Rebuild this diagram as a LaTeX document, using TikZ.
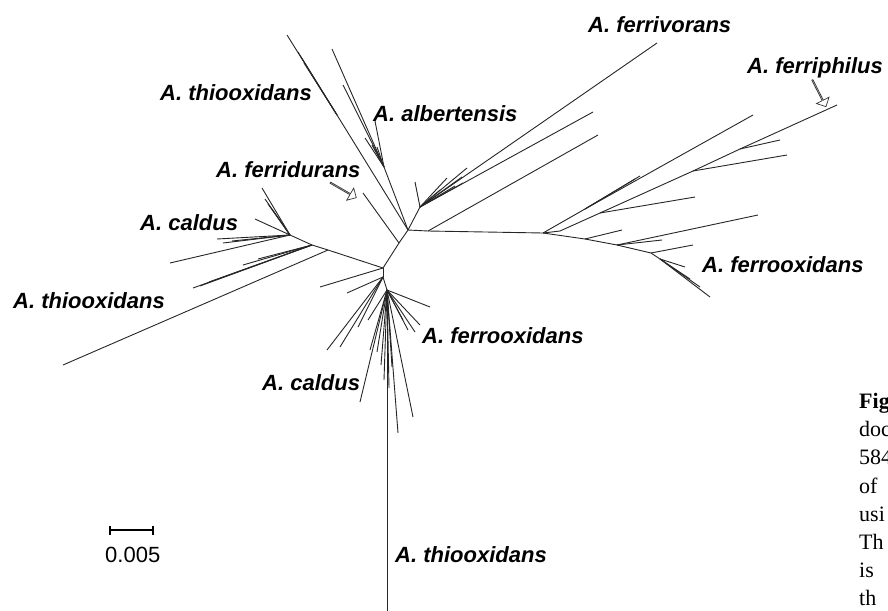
\documentclass[tikz,border=0pt]{standalone}
\usepackage{fontspec}
\setmainfont{Liberation Serif}
\newfontfamily\taxfont{Liberation Sans}
\usepackage{tikz}
\usetikzlibrary{graphs,shapes.arrows,arrows.meta}

\begin{document}
\begin{tikzpicture}[
    x=1pt, y={(0pt,-1pt)},
    branch/.style={draw=black!85, line width=0.9pt},
    taxon/.style={font=\taxfont\bfseries\itshape\fontsize{22}{26}\selectfont, anchor=base west, inner sep=0pt},
    hollowarrow/.style={single arrow, draw=black!80, fill=white, line width=0.7pt,
        minimum height=30pt, minimum width=14pt, single arrow head extend=3.5pt, inner sep=0pt},
    caption/.style={font=\fontsize{22}{28.2}\selectfont, anchor=north west, align=left, inner sep=0pt}
]
\useasboundingbox (0,0) rectangle (888,610);
\clip (0,0) rectangle (888,610);

\graph [
    no placement,
    empty nodes,            % only the branches are drawn
    nodes={coordinate},     % branch ends meet exactly
    edges={branch}
]
{
    % centre of the tree
    c2[at={(383,268)}] -- fd[at={(399,243)}] -- c1[at={(408,230)}],
    fd -- fdl[at={(363,193)}],
    % upper part
    c1 -- {
        tt[at={(337,115)}] -- {
            t1[at={(287,35)}], t2[at={(298,52)}], t3[at={(301,57)}], t4[at={(304,63)}]
        },
        ab[at={(384,167)}] -- {
            a1[at={(332,49)}], a2[at={(343,85)}], a3[at={(375,121)}],
            a4[at={(365,138)}], a5[at={(372,145)}], a6[at={(377,147)}]
        },
        al[at={(420,207)}] -- {
            v1[at={(657,43)}], v2[at={(593,112)}], v3[at={(415,182)}], v4[at={(447,178)}],
            v5[at={(462,177)}], v6[at={(467,168)}], v7[at={(463,183)}], v8[at={(455,186)}],
            v9[at={(440,190)}]
        },
        h0[at={(428,231)}] -- {
            g1[at={(598,135)}],
            h[at={(543,233)}]
        }
    },
    % right part
    h -- {
        r1[at={(585,209)}] -- { r1a[at={(753,115)}], r1b[at={(635,179)}], r1c[at={(640,176)}] },
        r2[at={(560,231)}] -- r3[at={(600,213)}] -- {
            r3a[at={(695,197)}],
            r4[at={(693,171)}] -- {
                r4a[at={(787,155)}],
                r5[at={(740,149)}] -- { r5a[at={(837,105)}], r5b[at={(780,140)}] }
            }
        },
        f1[at={(585,239)}] -- {
            f1a[at={(622,230)}],
            f2[at={(617,245)}] -- {
                f2a[at={(662,240)}], f2b[at={(758,215)}],
                f3[at={(651,253)}] -- {
                    f3a[at={(693,245)}],
                    f4[at={(660,259)}] -- {
                        f4a[at={(710,297)}], f4b[at={(700,287)}], f4c[at={(690,279)}], f4d[at={(685,267)}]
                    }
                }
            }
        }
    },
    % left and lower part
    c2 -- {
        l1[at={(328,250)}] -- {
            lt[at={(63,365)}],
            l2[at={(312,245)}] -- {
                m1[at={(193,288)}], m2[at={(200,286)}], m3[at={(209,282)}], m4[at={(243,265)}],
                m5[at={(258,259)}],
                k[at={(290,235)}] -- {
                    k1[at={(262,188)}], k2[at={(265,199)}], k3[at={(268,204)}], k4[at={(272,209)}],
                    k5[at={(255,219)}], k6[at={(217,239)}], k7[at={(223,243)}], k8[at={(232,241)}],
                    k9[at={(170,263)}]
                }
            }
        },
        p1[at={(320,287)}],
        b0[at={(383,277)}] -- {
            s1[at={(347,293)}], s2[at={(327,350)}], s3[at={(340,347)}], s4[at={(358,327)}],
            b[at={(387,290)}] -- {
                s5[at={(368,320)}], s6[at={(360,402)}], s7[at={(370,350)}], s8[at={(377,352)}],
                n1[at={(430,307)}], n2[at={(415,332)}], n3[at={(403,320)}], n4[at={(413,417)}],
                n5[at={(398,433)}], n6[at={(387,615)}], n7[at={(384,380)}], n8[at={(389,388)}],
                n9[at={(392,367)}], n10[at={(381,365)}], n11[at={(420,325)}], n12[at={(408,330)}]
            }
        }
    }
};

% names of the groups
\node[taxon] (fvor) at (588,33) {A. ferrivorans};
\node[taxon] (fphil) at (747,74) {A. ferriphilus};
\node[taxon] (thioA) at (160,100) {A. thiooxidans};
\node[taxon] (albert) at (373,121) {A. albertensis};
\node[taxon] (fdur) at (216,177) {A. ferridurans};
\node[taxon] (caldA) at (140,230) {A. caldus};
\node[taxon] (thioB) at (13,308) {A. thiooxidans};
\node[taxon] (foxA) at (702,272) {A. ferrooxidans};
\node[taxon] (foxB) at (422,343) {A. ferrooxidans};
\node[taxon] (caldB) at (262,390) {A. caldus};
\node[taxon] (thioC) at (395,562) {A. thiooxidans};

% hollow pointers
\node[hollowarrow, rotate=-30] (ptrFd) at (343,190) {};
\node[hollowarrow, rotate=-63] (ptrFp) at (819,93) {};

% scale bar
\coordinate (sbl) at (109,530);
\coordinate (sbr) at (154,530);
\draw[line width=1.8pt, {Bar[width=9pt]}-{Bar[width=9pt]}] (sbl) -- (sbr);
\node[font=\taxfont\fontsize{22}{26}\selectfont, anchor=base west, inner sep=0pt] (sblab) at (105,562) {0.005};

% cut caption at the right edge
\node[caption] (capt) at (859,393) {\textbf{Fig}\\doc\\584\\of\\usi\\Th\\is\\th};
\end{tikzpicture}
\end{document}
